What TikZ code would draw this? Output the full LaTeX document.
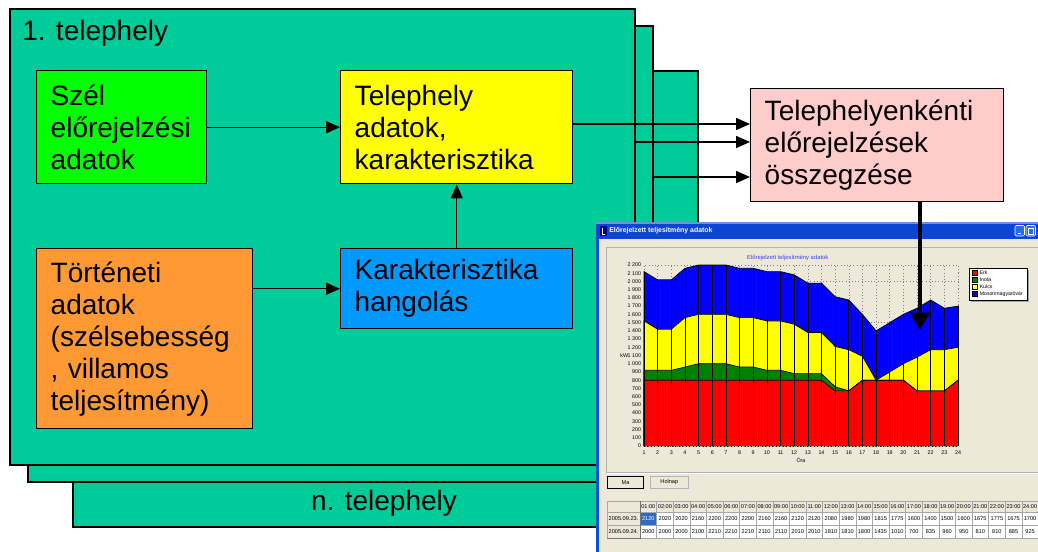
\documentclass[tikz,border=0pt]{standalone}
\usepackage{fontspec}
\setmainfont{Liberation Sans}
\usetikzlibrary{arrows.meta}
\definecolor{tealbg}{HTML}{00CC99}
\definecolor{cgreen}{HTML}{00FF00}
\definecolor{cyellow}{HTML}{FFFF00}
\definecolor{corange}{HTML}{FF9933}
\definecolor{cblue}{HTML}{0099FF}
\definecolor{cpink}{HTML}{FFCCCC}
\definecolor{xpbeige}{HTML}{ECE9D8}
\definecolor{xpblue}{HTML}{0A4FE0}
\definecolor{xptitle}{HTML}{0B45D6}
\definecolor{btnblue}{HTML}{2A6AF0}
\definecolor{selblue}{HTML}{316AC5}
\definecolor{chred}{HTML}{FF0000}
\definecolor{chgreen}{HTML}{008000}
\definecolor{chyellow}{HTML}{FFFF00}
\definecolor{chblue}{HTML}{0000FF}
\definecolor{chtitle}{HTML}{3C3CFF}
\def\Tlist{2120,2020,2020,2160,2200,2200,2200,2160,2160,2120,2120,2080,1980,1980,1815,1775,1600,1400,1500,1600,1675,1775,1675,1700}
\def\Ylist{1520,1420,1420,1560,1600,1600,1600,1560,1560,1520,1520,1480,1380,1380,1210,1170,1090,800,900,1000,1080,1170,1170,1200}
\def\Glist{920,920,920,960,1000,1000,1000,960,960,920,920,880,880,880,720,670,800,800,800,800,670,670,670,800}
\def\Rlist{800,800,800,800,800,800,800,800,800,800,800,800,800,800,670,670,800,800,800,800,670,670,670,800}
\def\Blist{2000,2000,2000,2100,2210,2210,2210,2110,2110,2010,2010,1810,1810,1800,1435,1010,700,835,960,950,810,810,885,925}
\begin{document}
\begin{tikzpicture}[x=0.75pt,y=-0.75pt,
  panel/.style={draw, line width=1.6pt, fill=tealbg, anchor=north west, minimum width=468.75pt, minimum height=342pt, inner sep=0pt},
  lbl/.style={font=\fontsize{21}{24}\selectfont, inner sep=0pt},
  box/.style={draw, line width=1.1pt, anchor=north west, align=left, inner xsep=10.5pt, inner ysep=0pt, font=\fontsize{21}{24}\selectfont},
  arr/.style={line width=1.1pt, -{Triangle[length=10.5pt,width=9pt]}},
  bigarr/.style={line width=3pt, -{Triangle[length=13pt,width=14pt]}},
  tiny/.style={font=\fontsize{4}{4.5}\selectfont, inner sep=0pt},
  cell/.style={font=\fontsize{4.2}{4.5}\selectfont, inner sep=0pt},
  griddot/.style={dotted, gray, line width=0.4pt},
  chline/.style={black, line width=0.5pt},
  tgrid/.style={draw=gray!70, line width=0.4pt}]
\useasboundingbox (0,0) rectangle (1038,551);
% panels
\node[panel] (p3) at (72,70) {};
\node[panel] (p2) at (27,25) {};
\node[panel] (p1) at (9,8) {};
\node[lbl, anchor=west] (t1) at (22,33) {1. telephely};
\node[lbl] (tn) at (384,503) {n. telephely};
% boxes
\node[box, fill=cgreen, text width=106.5pt, minimum width=127.5pt, minimum height=84.75pt] (szel) at (36,70) {Szél\\előrejelzési\\adatok};
\node[box, fill=cyellow, text width=153pt, minimum width=174pt, minimum height=84.75pt] (tel) at (340,70) {Telephely\\adatok,\\karakterisztika};
\node[box, fill=corange, text width=141pt, minimum width=162pt, minimum height=135pt] (tort) at (36,248) {Történeti\\adatok\\(szélsebesség\\, villamos\\teljesítmény)};
\node[box, fill=cblue, text width=153pt, minimum width=174pt, minimum height=60pt] (kar) at (340,248) {Karakterisztika\\hangolás};
\node[box, fill=cpink, text width=168.75pt, minimum width=189.75pt, minimum height=84.75pt] (sum) at (750,88) {Telephelyenkénti\\előrejelzések\\összegzése};
% connectors inside panel
\draw[arr] (szel.east) -- (tel.west);
\draw[arr] (kar.west -| tort.east) -- (kar.west);
\draw[arr] (kar.north) -- (tel.south);
\coordinate (r0) at (700,124);
\coordinate (r1) at (700,142);
\coordinate (r2) at (700,177);
\draw[arr] (tel.east |- r0) -- (sum.west |- r0);
\draw[arr] (p1.east |- r1) -- (sum.west |- r1);
\draw[arr] (p2.east |- r2) -- (sum.west |- r2);
% ---------- screenshot window ----------
\fill[xpblue] (596,222) rectangle (1040,553);
\fill[xpbeige] (599,239) rectangle (1040,553);
\fill[xptitle] (596,222) rectangle (1040,239);
\fill[xptitle!60!white] (596,222) rectangle (1040,224);
\fill[blue!50!black] (599.5,226) rectangle (606.5,236);
\draw[white, line width=0.6pt] (602,227.5) -- (602,234.5) -- (605,234.5);
\node[anchor=west, text=white, font=\bfseries\fontsize{5.2}{6}\selectfont, inner sep=0pt] (wt) at (609,231) {Előrejelzett teljesítmény adatok};
\filldraw[fill=btnblue, draw=white, line width=0.4pt, rounded corners=1pt] (1015,225.5) rectangle (1024.5,236);
\draw[white, line width=0.9pt] (1017.5,233.3) -- (1020.5,233.3);
\filldraw[fill=btnblue, draw=white, line width=0.4pt, rounded corners=1pt] (1026,225.5) rectangle (1035.5,236);
\draw[white, line width=0.5pt] (1028,228.5) rectangle (1033.5,234);
\draw[white, line width=1pt] (1028,228.5) -- (1033.5,228.5);
% chart frame
\draw[gray!60, line width=0.5pt] (606,247) rectangle (1045,472);
\draw[white, line width=0.5pt] (607,473) -- (1045,473);
% chart
\begin{scope}[shift={(630.348,446)}, x=10.239pt, y=0.0617pt]
  \foreach \i in {1,...,24} \draw[griddot] (\i,0) -- (\i,2200);
  \foreach \v in {500,1000,1500,2000} \draw[griddot] (1,\v) -- (24,\v);
  \draw[griddot] (1,0) rectangle (24,2200);
  \fill[chblue] (1,0) \foreach \v [count=\i] in \Tlist { -- (\i,\v) } -- (24,0) -- cycle;
  \fill[chyellow] (1,0) \foreach \v [count=\i] in \Ylist { -- (\i,\v) } -- (24,0) -- cycle;
  \fill[chgreen] (1,0) \foreach \v [count=\i] in \Glist { -- (\i,\v) } -- (24,0) -- cycle;
  \fill[chred] (1,0) \foreach \v [count=\i] in \Rlist { -- (\i,\v) } -- (24,0) -- cycle;
  \foreach \v [count=\i] in \Tlist { \draw[chline] (\i,0) -- (\i,\v); }
  \draw[chline] (1,0) \foreach \v [count=\i] in \Tlist { -- (\i,\v) };
  \draw[chline] (1,0) \foreach \v [count=\i] in \Ylist { -- (\i,\v) };
  \draw[chline] (1,0) \foreach \v [count=\i] in \Glist { -- (\i,\v) };
  \draw[chline] (1,0) \foreach \v [count=\i] in \Rlist { -- (\i,\v) };
  \draw[black, dotted, line width=0.6pt] (1,0) -- (24,0);
  \foreach \v/\t in {0/0,100/100,200/200,300/300,400/400,500/500,600/600,700/700,800/800,900/900,1000/1 000,1100/1 100,1200/1 200,1300/1 300,1400/1 400,1500/1 500,1600/1 600,1700/1 700,1800/1 800,1900/1 900,2000/2 000,2100/2 100,2200/2 200}
    \node[tiny, anchor=east] (yl\v) at (0.8,\v) {\t};
  \foreach \i in {1,...,24} \node[tiny] (xl\i) at (\i,-85) {\i};
  \node[tiny] (ora) at (12.5,-175) {Óra};
  \node[tiny] (kw) at (-0.45,1100) {kW};
  \node[font=\fontsize{4.4}{5}\selectfont, inner sep=0pt, text=chtitle] (ctitle) at (11.53,2285) {Előrejelzett teljesítmény adatok};
\end{scope}
% legend
\fill[gray!70] (971,270) rectangle (1029,302);
\draw[fill=white, line width=0.5pt] (969,268) rectangle (1027,300);
\foreach \c/\t [count=\k] in {chred/Erk,chgreen/Inota,chyellow/Kulcs,chblue/Mosonmagyaróvár} {
  \filldraw[fill=\c, draw=black, line width=0.3pt] (972,263.1+\k*7.1) rectangle (977,268.1+\k*7.1);
  \node[tiny, anchor=west, font=\fontsize{3.9}{4.4}\selectfont] (lg\k) at (979.5,265.6+\k*7.1) {\t};
}
% buttons
\node[draw=black, line width=0.8pt, fill=xpbeige, anchor=north west, minimum width=27pt, minimum height=9pt, inner sep=0pt, font=\fontsize{4.2}{4.5}\selectfont] (ma) at (607,476) {Ma};
\node[draw=gray!60, line width=0.5pt, fill=xpbeige, anchor=north west, minimum width=28.5pt, minimum height=9pt, inner sep=0pt, font=\fontsize{4.2}{4.5}\selectfont] (holnap) at (650,476) {Holnap};
% table
\fill[white] (640,512) rectangle (1040,538);
\fill[selblue] (640,512) rectangle (656.6,525);
\foreach \yy in {501,512,525,538} \draw[tgrid] (607,\yy) -- (1040,\yy);
\draw[tgrid] (607,501) -- (607,538);
\foreach \k in {0,...,24} \draw[tgrid] (640+\k*16.6,501) -- (640+\k*16.6,538);
\draw[gray!90!black, line width=0.6pt] (607,538) -- (640,538) -- (640,501);
\foreach \i in {1,...,24} \node[cell] (h\i) at (631.7+\i*16.6,506.5) {\ifnum\i<10 0\fi\i:00};
\node[cell] (d1) at (623.5,518.5) {2005.09.23.};
\node[cell] (d2) at (623.5,531.5) {2005.09.24.};
\foreach \v [count=\i] in \Tlist \node[cell] (ra\i) at (631.7+\i*16.6,518.5) {\ifnum\i=1 \color{white}\fi\v};
\foreach \v [count=\i] in \Blist \node[cell] (rb\i) at (631.7+\i*16.6,531.5) {\v};
% big arrow
\coordinate (ae) at (920,330);
\draw[bigarr] (sum.south -| ae) -- (ae);
\end{tikzpicture}
\end{document}
